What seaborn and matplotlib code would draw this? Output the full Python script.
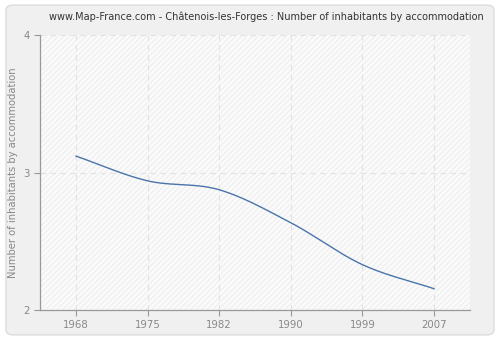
import numpy as np
import pandas as pd
import matplotlib
matplotlib.use("Agg")
import matplotlib.pyplot as plt
from matplotlib.patches import FancyBboxPatch, Rectangle
import seaborn as sns

years = ["1968", "1975", "1982", "1990", "1999", "2007"]
values = [3.12, 2.94, 2.875, 2.635, 2.33, 2.155]
yticks = [2, 3, 4]

sns.set_style("white")
plt.rcParams['font.family'] = ['DejaVu Sans']

fig = plt.figure(figsize=(5, 3.4), dpi=100)
fig.patch.set_facecolor("white")
bg = FancyBboxPatch((0.012, 0.015), 0.976, 0.97,
                    boxstyle="round,pad=0,rounding_size=0.015",
                    transform=fig.transFigure, facecolor="#f0f0f0",
                    edgecolor="#dcdcdc", linewidth=1, zorder=-10)
fig.patches.append(bg)
ax = fig.add_axes([0.08, 0.088, 0.86, 0.809])
ax.set_zorder(1)
ax.set_facecolor("#fbfbfb")
ax.add_patch(Rectangle((0, 0), 1, 1, transform=ax.transAxes, facecolor="none",
                       edgecolor="#f0f0f0", hatch="//////", linewidth=0, zorder=0))

# smooth curve (cubic Hermite through the points)
x = np.arange(len(values), dtype=float)
y = np.array(values)
m = np.gradient(y, x)
xs, ys = [], []
for i in range(len(x) - 1):
    t = np.linspace(0, 1, 30)
    h00 = 2*t**3 - 3*t**2 + 1
    h10 = t**3 - 2*t**2 + t
    h01 = -2*t**3 + 3*t**2
    h11 = t**3 - t**2
    xs.extend(x[i] + t)
    ys.extend(h00*y[i] + h10*m[i] + h01*y[i+1] + h11*m[i+1])
df = pd.DataFrame({"x": xs, "y": ys})
sns.lineplot(data=df, x="x", y="y", ax=ax, color="#4a74aa", linewidth=1.0,
             estimator=None, sort=False, zorder=3)

ax.set_xlim(-0.5, len(years) - 0.5)
ax.set_ylim(2, 4)
ax.set_xticks(x)
ax.set_xticklabels(years)
ax.set_yticks(yticks)
ax.set_yticklabels([str(v) for v in yticks])
for xv in x:
    ax.axvline(xv, color="#e2e2e2", linestyle=(0, (5, 4)), linewidth=0.8, zorder=1)
for yv in yticks[1:]:
    ax.axhline(yv, color="#e2e2e2", linestyle=(0, (5, 4)), linewidth=0.8, zorder=1)

for s in ["top", "right"]:
    ax.spines[s].set_visible(False)
for s in ["left", "bottom"]:
    ax.spines[s].set_color("#999999")
    ax.spines[s].set_linewidth(0.9)
ax.tick_params(axis="both", colors="#999999", labelcolor="#888888", labelsize=7.3,
               length=4, width=0.8, direction="out", bottom=True, left=True)
ax.set_xlabel("")
ax.set_ylabel("Number of inhabitants by accommodation", color="#888888", fontsize=7.2)
ax.yaxis.set_label_coords(-0.05, 0.5)
fig.text(0.532, 0.95, "www.Map-France.com - Châtenois-les-Forges : Number of inhabitants by accommodation",
         fontsize=7.0, color="#333333", ha="center", va="center")

fig.savefig("out.png", dpi=100)
